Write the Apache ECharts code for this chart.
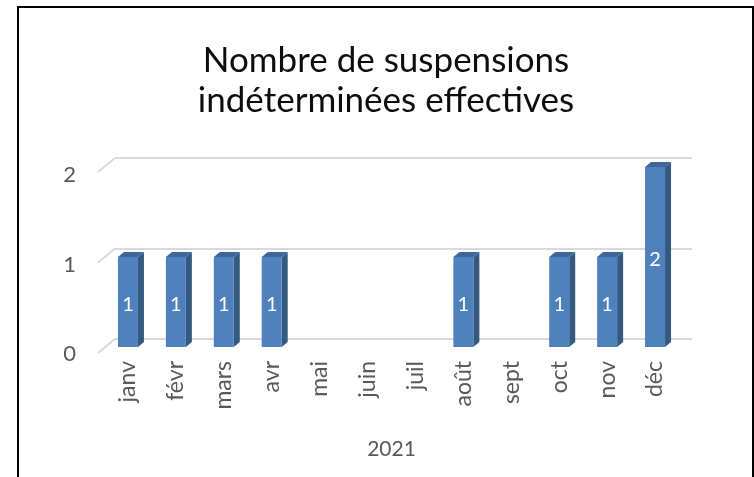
<!DOCTYPE html>
<html>
<head>
<meta charset="utf-8">
<script src="https://cdn.jsdelivr.net/npm/echarts@6/dist/echarts.min.js"></script>
<style>
  html, body { margin: 0; padding: 0; background: #ffffff; }
  #chart { position: absolute; left: 0; top: 0; width: 754px; height: 477px; }
  .frame {
    position: absolute; left: 17px; top: 6px; width: 733px; height: 490px;
    border: 2px solid #000; pointer-events: none;
  }
</style>
</head>
<body>
<div id="chart"></div>
<div class="frame"></div>
<script>
  var categories = ['janv', 'févr', 'mars', 'avr', 'mai', 'juin', 'juil', 'août', 'sept', 'oct', 'nov', 'déc'];
  var values = [1, 1, 1, 1, 0, 0, 0, 1, 0, 1, 1, 2];
  var yTicks = [0, 1, 2];
  var yearLabel = '2021';

  var font = 'Lato';
  var grey = '#595959';
  var gridGrey = '#d9d9d9';
  var front = '#4f81bd', side = '#35597f', topFace = '#3e6797';

  // 3d-ish bar: front face + side + top, value label in the middle
  function renderBar(params, api) {
    var i = api.value(0), v = api.value(1);
    if (!v) return;
    var base = api.coord([i, 0]);
    var top = api.coord([i, v]);
    var w = 20, dx = 6, dy = 5;
    var x0 = base[0] - w / 2, x1 = base[0] + w / 2;
    return {
      type: 'group',
      children: [
        { type: 'polygon', shape: { points: [[x1, top[1]], [x1 + dx, top[1] - dy], [x1 + dx, base[1] - dy], [x1, base[1]]] }, style: { fill: side } },
        { type: 'polygon', shape: { points: [[x0, top[1]], [x0 + dx, top[1] - dy], [x1 + dx, top[1] - dy], [x1, top[1]]] }, style: { fill: topFace } },
        {
          type: 'rect', shape: { x: x0, y: top[1], width: w, height: base[1] - top[1] }, style: { fill: front },
          textContent: { style: { text: String(v), fill: '#ffffff', fontSize: 20, fontFamily: font } },
          textConfig: { position: 'inside', offset: [0, 3] }
        }
      ]
    };
  }

  // side wall edges of the gridlines
  function renderSlant(params, api) {
    var p = api.coord([0, api.value(1)]);
    var xl = p[0] - api.size([1, 0])[0] / 2;
    return {
      type: 'line',
      shape: { x1: xl, y1: p[1], x2: xl - 17, y2: p[1] + 14 },
      style: { stroke: gridGrey, lineWidth: 2 }
    };
  }

  var chart = echarts.init(document.getElementById('chart'));
  chart.setOption({
    backgroundColor: '#ffffff',
    animation: false,
    title: {
      text: 'Nombre de suspensions\nindéterminées effectives',
      left: 381,
      textAlign: 'center',
      top: 36,
      textStyle: { fontFamily: font, fontSize: 35, fontWeight: 'normal', color: '#0d0d0d', lineHeight: 40 }
    },
    grid: [
      { left: 115, right: 62, top: 158, bottom: 138 },
      { left: 104, right: 75, top: 167, bottom: 130 },
      { left: 98, right: 62, top: 175, bottom: 123 }
    ],
    xAxis: [
      { gridIndex: 0, type: 'category', data: categories, show: false },
      {
        gridIndex: 1, type: 'category', data: categories,
        axisLine: { show: false }, axisTick: { show: false },
        axisLabel: { rotate: 90, margin: 14, fontSize: 23, fontFamily: font, color: grey, interval: 0 },
        name: yearLabel, nameLocation: 'middle', nameGap: 92,
        nameTextStyle: { fontSize: 21, fontFamily: font, color: grey }
      },
      { gridIndex: 2, type: 'category', data: categories, show: false }
    ],
    yAxis: [
      {
        gridIndex: 0, type: 'value', min: yTicks[0], max: yTicks[yTicks.length - 1], interval: 1,
        axisLine: { show: false }, axisTick: { show: false }, axisLabel: { show: false },
        splitLine: { lineStyle: { color: gridGrey, width: 2 } }
      },
      {
        gridIndex: 1, type: 'value', min: yTicks[0], max: yTicks[yTicks.length - 1], interval: 1,
        show: false, splitLine: { show: false }
      },
      {
        gridIndex: 2, type: 'value', min: yTicks[0], max: yTicks[yTicks.length - 1], interval: 1,
        axisLine: { show: false }, axisTick: { show: false }, splitLine: { show: false },
        axisLabel: { margin: 22, fontSize: 22, fontFamily: font, color: grey }
      }
    ],
    series: [
      {
        type: 'custom', xAxisIndex: 0, yAxisIndex: 0,
        data: yTicks.map(function (t) { return [0, t]; }),
        renderItem: renderSlant, silent: true
      },
      {
        type: 'custom', xAxisIndex: 1, yAxisIndex: 1,
        data: values.map(function (v, i) { return [i, v]; }),
        renderItem: renderBar
      }
    ]
  });
</script>
</body>
</html>
